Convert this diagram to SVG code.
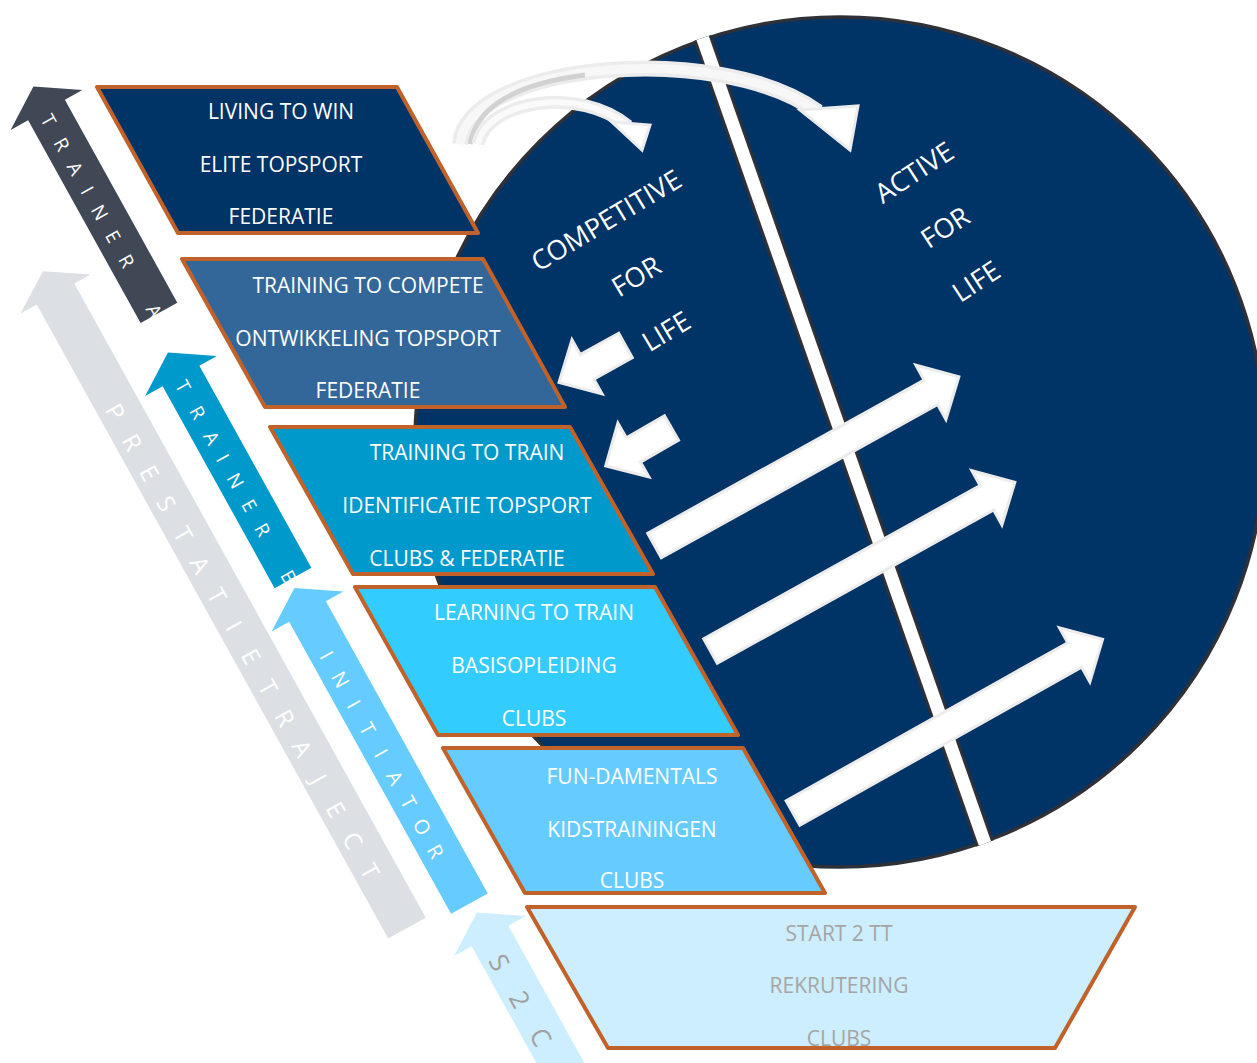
<svg xmlns="http://www.w3.org/2000/svg" width="1257" height="1063" viewBox="0 0 1257 1063">
<defs>
<style>
.para{stroke:#C0622A;stroke-width:4;stroke-linejoin:round}
.t{font-family:"Open Sans","Liberation Sans",sans-serif;font-size:21px;fill:#fff;text-anchor:middle}
.g{fill:#a5a5a5}
.ct{font-family:"Open Sans","Liberation Sans",sans-serif;font-size:27px;fill:#fff;text-anchor:middle}
.al{font-family:"Open Sans","Liberation Sans",sans-serif;fill:#fff;text-anchor:middle;dominant-baseline:central}
.wa{fill:#fff;stroke:#ececec;stroke-width:3;stroke-linejoin:miter}
.band{fill:none;stroke-linecap:butt}
</style>
<clipPath id="cc"><circle cx="840" cy="442" r="427"/></clipPath>
</defs>
<rect width="1257" height="1063" fill="#fff"/>

<!-- side arrows -->
<g id="prestatietraject" transform="translate(55.5,294) rotate(61)">
<polygon points="0,-21.5 0,-40 -26,0 0,40 0,21.5 725,21.5 725,-21.5" fill="#dcdfe3"/>
<text class="al" font-size="24" y="4" x="132 167 202 237 272 307 342 377 412 447 482 517 552 587 622 657">PRESTATIETRAJECT</text>
</g>
<g id="trainerA" transform="translate(46.5,110) rotate(61)">
<polygon points="0,-21 0,-41 -27,0 0,41 0,21 232,21 232,-21" fill="#404755"/>
<text class="al" font-size="19" y="3" x="10 37.5 65 90 115.5 143 171 228">TRAINERA</text>
</g>
<g id="trainerB" transform="translate(181,376) rotate(61)">
<polygon points="0,-21 0,-41 -27,0 0,41 0,21 231,21 231,-21" fill="#0099cc"/>
<text class="al" font-size="19" y="3" x="10 40 69 92 118 146.5 174 228">TRAINERB</text>
</g>
<g id="initiator" transform="translate(307.5,611.5) rotate(61)">
<polygon points="0,-21 0,-41 -27,0 0,41 0,21 334,21 334,-21" fill="#66ccff"/>
<text class="al" font-size="20" y="4" x="47.5 75.5 103.6 131.7 159.7 187.8 215.9 243.9 272">INITIATOR</text>
</g>
<g id="s2c" transform="translate(490,936) rotate(61)">
<polygon points="0,-21 0,-41 -27,0 0,41 0,21 170,21 170,-21" fill="#cceeff"/>
<text class="al" font-size="26" y="4" x="27.6 70 113" style="fill:#a0a0a0">S2C</text>
</g>

<!-- circle -->
<g id="circle">
<circle cx="840" cy="442" r="425" fill="#003366" stroke="#2e3138" stroke-width="3.5"/>
<g clip-path="url(#cc)">
<line x1="690" y1="2" x2="997" y2="878" stroke="#2e3138" stroke-width="19"/>
<line x1="690" y1="2" x2="997" y2="878" stroke="#fff" stroke-width="13"/>
</g>
<text class="ct" transform="translate(606,220) rotate(-31)" y="10">COMPETITIVE</text>
<text class="ct" transform="translate(636,276) rotate(-31)" y="10">FOR</text>
<text class="ct" transform="translate(666,331) rotate(-31)" y="10">LIFE</text>
<text class="ct" transform="translate(914,172) rotate(-33)" y="10">ACTIVE</text>
<text class="ct" transform="translate(945,227) rotate(-33)" y="10">FOR</text>
<text class="ct" transform="translate(976,281) rotate(-33)" y="10">LIFE</text>
</g>

<!-- connectors -->
<g id="connectors">
<polygon class="wa" transform="translate(654.5,545.5) rotate(-29)" points="0,-14 316,-14 316,-31 348,0 316,31 316,14 0,14"/>
<polygon class="wa" transform="translate(710.5,651) rotate(-29)" points="0,-14 316,-14 316,-31 348,0 316,31 316,14 0,14"/>
<polygon class="wa" transform="translate(793,813) rotate(-29.3)" points="0,-14 323,-14 323,-31 355,0 323,31 323,14 0,14"/>
</g>

<!-- levels -->
<g id="level1">
<polygon class="para" fill="#003366" points="97,87 397,87 478,233 178,233"/>
<text class="t" x="281" y="119">LIVING TO WIN</text>
<text class="t" x="281" y="172">ELITE TOPSPORT</text>
<text class="t" x="281" y="224">FEDERATIE</text>
</g>
<g id="level2">
<polygon class="para" fill="#336699" points="182,259 483,259 565,407 265,407"/>
<text class="t" x="368" y="293">TRAINING TO COMPETE</text>
<text class="t" x="368" y="346">ONTWIKKELING TOPSPORT</text>
<text class="t" x="368" y="398">FEDERATIE</text>
</g>
<g id="level3">
<polygon class="para" fill="#0099cc" points="270,427 570,427 653,574 353,574"/>
<text class="t" x="467" y="460">TRAINING TO TRAIN</text>
<text class="t" x="467" y="513">IDENTIFICATIE TOPSPORT</text>
<text class="t" x="467" y="566">CLUBS &amp; FEDERATIE</text>
</g>
<g id="level4">
<polygon class="para" fill="#33ccff" points="355,587 655,587 738,735 438,735"/>
<text class="t" x="534" y="620">LEARNING TO TRAIN</text>
<text class="t" x="534" y="673">BASISOPLEIDING</text>
<text class="t" x="534" y="726">CLUBS</text>
</g>
<g id="level5">
<polygon class="para" fill="#66ccff" points="443,748 743,748 825,893 525,893"/>
<text class="t" x="632" y="784">FUN-DAMENTALS</text>
<text class="t" x="632" y="837">KIDSTRAININGEN</text>
<text class="t" x="632" y="888">CLUBS</text>
</g>
<g id="level6">
<polygon class="para" fill="#cceeff" points="527,907 1135,907 1055,1048 608,1048"/>
<text class="t g" x="839" y="941">START 2 TT</text>
<text class="t g" x="839" y="993">REKRUTERING</text>
<text class="t g" x="839" y="1046">CLUBS</text>
</g>

<!-- more connectors -->
<g id="connectors2">
<polygon class="wa" transform="translate(625.5,345.5) rotate(151)" points="0,-14 44,-14 44,-31 76,0 44,31 44,14 0,14"/>
<polygon class="wa" transform="translate(671.5,428) rotate(150)" points="0,-14 44,-14 44,-31 76,0 44,31 44,14 0,14"/>
<path class="band" d="M460,144 C468,62 720,40 818,112" stroke="#ececec" stroke-width="16"/>
<path class="band" d="M460,144 C468,62 720,40 818,112" stroke="#f7f7f7" stroke-width="9"/>
<path class="band" d="M470,144 C478,100 530,82 585,75" stroke="#d2d2d2" stroke-width="5"/>
<polygon class="wa" points="800,110 858,106 850,150"/>
<path class="band" d="M478,144 C487,100 580,86 628,126" stroke="#ececec" stroke-width="13"/>
<path class="band" d="M478,144 C487,100 580,86 628,126" stroke="#fafafa" stroke-width="6"/>
<polygon class="wa" points="612,122 650,125 642,150"/>
</g>
</svg>
